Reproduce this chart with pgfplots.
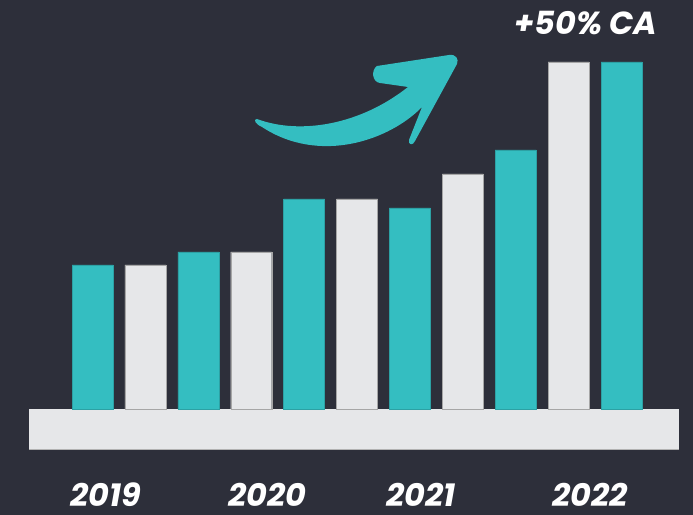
\documentclass[border=0pt]{standalone}
\usepackage{pgfplots}
\pgfplotsset{compat=1.18}
\usepackage{fontspec}
\setmainfont{Poppins}
\definecolor{bg}{HTML}{2D2F3A}
\definecolor{teal}{HTML}{34BEC1}
\definecolor{lgray}{HTML}{E6E7E9}
\begin{document}
\begin{tikzpicture}
\fill[bg] (0,0) rectangle (693bp,515bp);
\useasboundingbox (0,0) rectangle (693bp,515bp);
\begin{axis}[
  at={(0,0)}, anchor=south west,
  scale only axis, width=693bp, height=515bp,
  xmin=0, xmax=693, ymin=-106, ymax=409,
  axis line style={draw=none},
  ytick=\empty,
  xtick={106,267,421,590},
  xticklabels={2019,2020,2021,2022},
  major tick length=0pt,
  xticklabel style={anchor=base, inner sep=0pt, yshift=9bp, font=\fontsize{32}{34}\selectfont\bfseries\itshape, text=white},
  clip=false,
  ybar, bar width=41,
]
\fill[lgray] (axis cs:29,-40) rectangle (axis cs:679,0);
\draw[black!30, line width=0.8pt] (axis cs:29,-40) -- (axis cs:679,-40);
\addplot[bar shift=0pt, fill=teal, draw=teal!85!black, line width=0.4pt] coordinates {
  (92.5,144) (198.3,157) (304.1,210) (409.9,201) (515.7,259) (621.5,347)
};
\addplot[bar shift=0pt, fill=lgray, draw=gray!70, line width=0.4pt] coordinates {
  (145.4,144) (251.2,157) (357.0,210) (462.8,235) (568.6,347)
};
\node[text=white, font=\fontsize{32}{34}\selectfont\bfseries\itshape] at (axis cs:586,386) {+50\% CA};
\end{axis}
\begin{scope}[x=1bp, y=-1bp, yshift=515bp]
\fill[teal] (257,119) .. controls (300,135) and (360,125) .. (408,87)
  -- (380,83) .. controls (372,82) and (371,70) .. (377,66)
  -- (449,55) .. controls (456,54) and (459,59) .. (457,64)
  -- (415,141) .. controls (413,146) and (408,145) .. (409,140)
  -- (422,107) .. controls (390,140) and (320,165) .. (262,127)
  .. controls (255,124) and (253,119) .. (257,119) -- cycle;
\end{scope}
\end{tikzpicture}
\end{document}
